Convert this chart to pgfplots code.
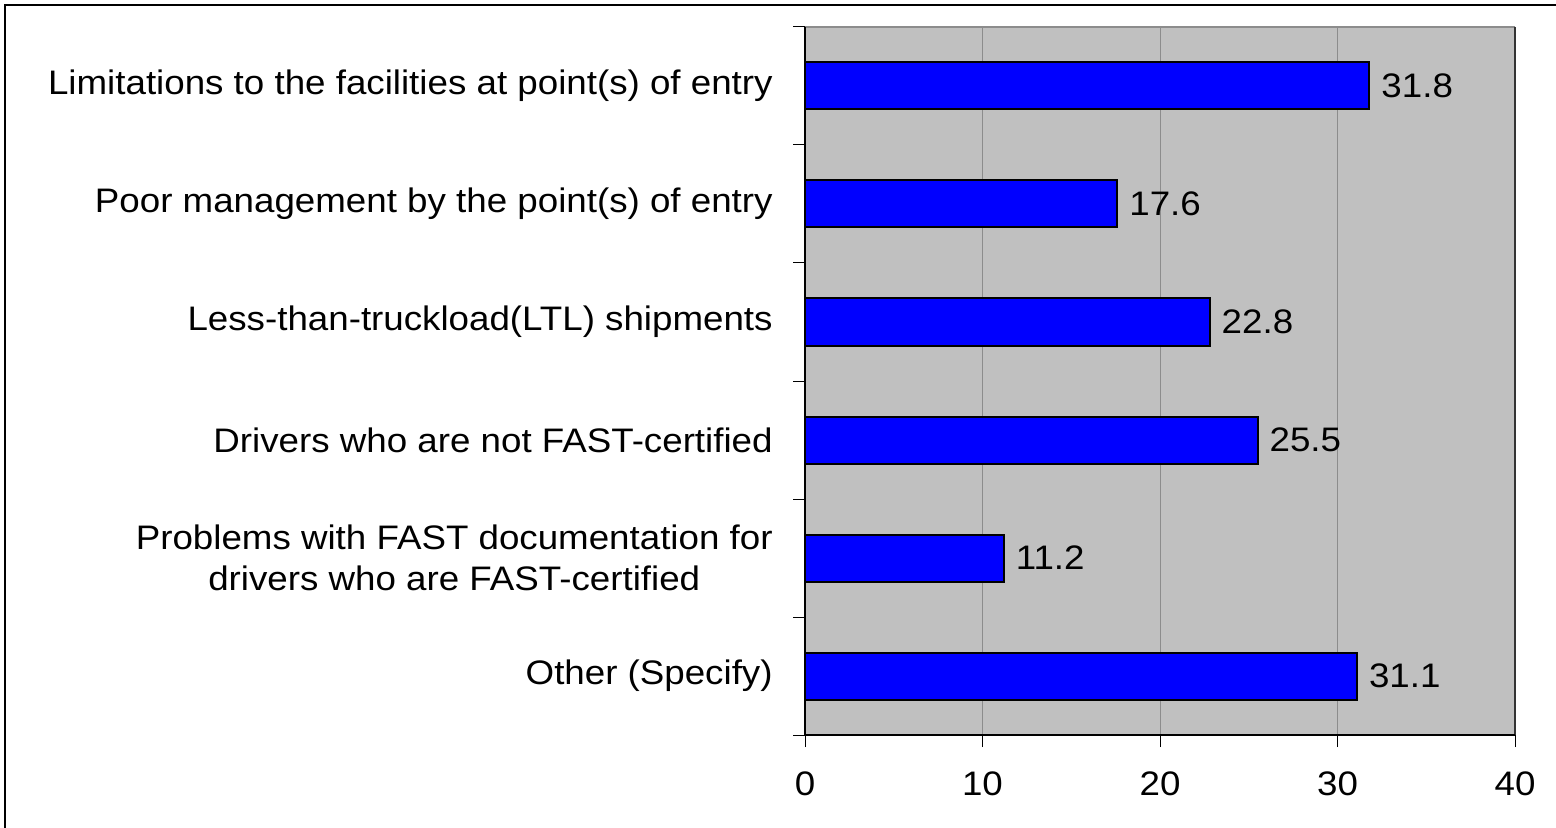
\documentclass[border=0pt]{standalone}
\usepackage{pgfplots}
\pgfplotsset{compat=1.18}
\usepackage{fontspec}
\setmainfont{Liberation Sans}[FakeStretch=1.08]
\definecolor{plotbg}{RGB}{192,192,192}
\definecolor{barblue}{RGB}{0,0,255}
\definecolor{gridgray}{RGB}{140,140,140}
\begin{document}
\fontsize{17pt}{20.3pt}\selectfont
\begin{tikzpicture}
\useasboundingbox (0,0) rectangle (778pt,414pt);
\draw[line width=0.7pt] (2.5pt,-10pt) -- (2.5pt,411.5pt) -- (790pt,411.5pt);
\begin{axis}[
  at={(402.5pt,46.5pt)}, anchor=south west,
  scale only axis, width=355pt, height=354pt,
  xbar, bar width=23.5pt,
  xmin=0, xmax=40, xtick={0,10,20,30,40},
  ymin=-0.5, ymax=5.5, y dir=reverse,
  ytick={-0.5,0.5,...,5.5}, yticklabels={},
  extra y ticks={0,1,2,3,4,5},
  extra y tick labels={Limitations to the facilities at point(s) of entry,
    Poor management by the point(s) of entry,
    Less-than-truckload(LTL) shipments,
    Drivers who are not FAST-certified,
    {Problems with FAST documentation for\\drivers who are FAST-certified},
    Other (Specify)},
  extra y tick style={major tick length=0pt, yticklabel style={align=center, inner sep=0pt, xshift=-16pt}},
  xtick pos=bottom, ytick pos=left,
  tick align=outside, major tick length=6pt,
  tick style={black, line width=0.5pt},
  xticklabel style={inner sep=0pt, yshift=-12pt},
  xmajorgrids, grid style={gridgray, line width=0.5pt},
  axis background/.style={fill=plotbg},
  axis line style={draw=none},
  /pgf/number format/assume math mode=true,
  ticklabel style={font=\fontsize{17pt}{20.3pt}\selectfont},
  nodes near coords,
  nodes near coords style={anchor=west, inner sep=0pt, xshift=5.5pt,
    font=\fontsize{17pt}{20.3pt}\selectfont,
    /pgf/number format/fixed, /pgf/number format/fixed zerofill,
    /pgf/number format/precision=1},
  clip=false,
]
\addplot[fill=barblue, draw=black, line width=1pt] coordinates {
  (31.8,0) (17.6,1) (22.8,2) (25.5,3) (11.2,4) (31.1,5)};
\draw[gridgray, line width=0.6pt] (rel axis cs:0,1) -- (rel axis cs:1,1);
\draw[black!80, line width=0.6pt] (rel axis cs:1,1) -- (rel axis cs:1,0);
\draw[black, line width=0.7pt] (rel axis cs:0,1) -- (rel axis cs:0,0) -- (rel axis cs:1,0);
\end{axis}
\end{tikzpicture}
\end{document}
